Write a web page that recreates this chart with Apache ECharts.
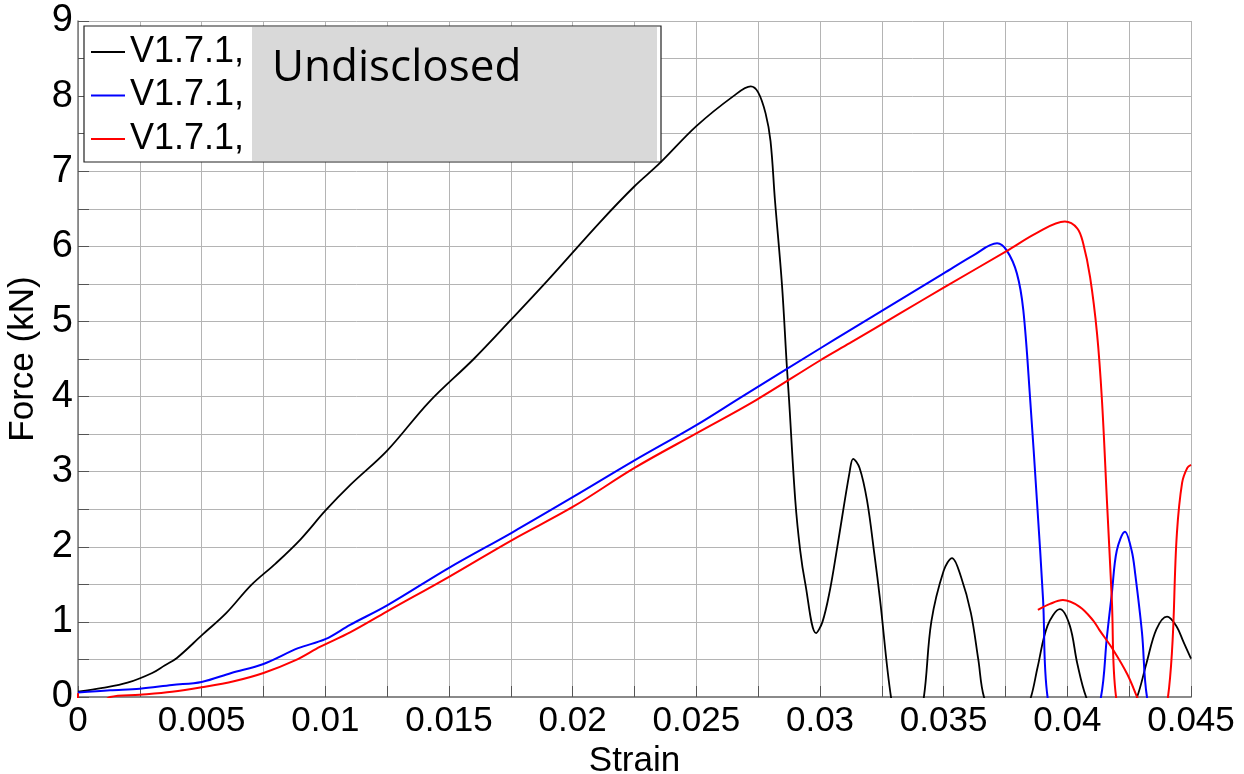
<!DOCTYPE html>
<html>
<head>
<meta charset="utf-8">
<title>Force vs Strain</title>
<script src="https://cdn.jsdelivr.net/npm/echarts@6/dist/echarts.min.js"></script>
<style>
  html, body { margin: 0; padding: 0; background: #fff; }
  #chart { width: 1244px; height: 774px; }
</style>
</head>
<body>
<div id="chart"></div>
<script>
const legendLabel = 'V1.7.1,'
const boxText = 'Undisclosed'
const xTickLabels = ['0', '0.005', '0.01', '0.015', '0.02', '0.025', '0.03', '0.035', '0.04', '0.045']
const yTickLabels = ['0', '1', '2', '3', '4', '5', '6', '7', '8', '9']

// black run
const blackStrain = [0, 0.001, 0.002, 0.003, 0.0035, 0.004, 0.005, 0.006, 0.007, 0.008, 0.009, 0.01, 0.011, 0.0125,
  0.0142, 0.016, 0.0175, 0.019, 0.0211, 0.0225, 0.0235, 0.025, 0.0265, 0.0272, 0.0275, 0.0278, 0.028, 0.02818,
  0.02846, 0.02866, 0.02875, 0.029, 0.0292, 0.0294, 0.02984, 0.0301, 0.0304, 0.0307, 0.0312, 0.03134, 0.0316,
  0.0319, 0.0322, 0.03243, 0.03287,
  0.03355, 0.0342, 0.0345, 0.035, 0.03534, 0.0357, 0.0361, 0.0364, 0.03663,
  0.0376, 0.03853, 0.0388, 0.0392, 0.0397, 0.0401, 0.0404, 0.04076,
  0.0418, 0.04282, 0.0432, 0.0436, 0.04403, 0.0444, 0.0447, 0.045]
const blackForce = [0.07, 0.12, 0.19, 0.32, 0.42, 0.52, 0.82, 1.12, 1.49, 1.78, 2.1, 2.48, 2.82, 3.28,
  3.93, 4.5, 5.02, 5.55, 6.32, 6.8, 7.1, 7.6, 8.0, 8.13, 8.05, 7.77, 7.4, 6.61,
  5.5, 4.4, 3.95, 2.62, 1.95, 1.52, 0.85, 1.0, 1.42, 2.0, 3.0, 3.17, 3.05,
  2.62, 1.9, 1.29, 0,
  -1.2, 0, 1.0, 1.68, 1.85, 1.6, 1.12, 0.5, 0,
  -0.9, 0, 0.4, 0.95, 1.17, 0.95, 0.45, 0,
  -0.8, 0, 0.45, 0.9, 1.07, 0.95, 0.73, 0.51]

// blue run
const blueStrain = [0, 0.0013, 0.0025, 0.0038, 0.005, 0.0062, 0.0075, 0.0089, 0.01, 0.011, 0.0125, 0.015, 0.01755,
  0.02, 0.0225, 0.025, 0.0268, 0.03, 0.0312, 0.0332, 0.035, 0.0362, 0.03716, 0.03756, 0.03796, 0.03822, 0.0385,
  0.03877, 0.03902, 0.0392, 0.0403, 0.04136, 0.0416, 0.0418, 0.042, 0.04233, 0.0426, 0.04274, 0.04302, 0.04322,
  0.044, 0.045]
const blueForce = [0.06, 0.09, 0.11, 0.16, 0.2, 0.32, 0.44, 0.65, 0.77, 0.96, 1.22, 1.72, 2.19,
  2.66, 3.15, 3.62, 3.99, 4.64, 4.88, 5.28, 5.64, 5.88, 6.04, 5.94, 5.64, 5.15, 3.95,
  2.62, 1.29, 0, -1.5, 0, 0.8, 1.38, 1.95, 2.2, 1.95, 1.65, 0.85, 0,
  -1.2, -2]

// red run
const redStrain = [0, 0.00002, 0.0008, 0.0013, 0.0025, 0.0038, 0.005, 0.0063, 0.0075, 0.0088, 0.0098, 0.011, 0.0125,
  0.015, 0.01755, 0.02, 0.0225, 0.025, 0.0274, 0.03, 0.0312, 0.0332, 0.035, 0.03756, 0.03877, 0.0399, 0.0404,
  0.04064, 0.04092, 0.0412, 0.0414, 0.0416, 0.0418, 0.04197, 0.043, 0.04407, 0.04443, 0.04464, 0.04485, 0.045]
const redForce = [0.05, -0.3, -0.15, 0, 0.03, 0.07, 0.13, 0.21, 0.32, 0.49, 0.67, 0.86, 1.14,
  1.6, 2.09, 2.53, 3.05, 3.51, 3.95, 4.48, 4.71, 5.1, 5.45, 5.94, 6.18, 6.33, 6.24,
  6.04, 5.59, 4.84, 3.95, 2.62, 1.29, 0, -1.5, 0, 2.18, 2.85, 3.05, 3.09]

// red trailing piece
const redTailStrain = [0.03881, 0.0393, 0.03982, 0.0405, 0.04104, 0.0413, 0.04185, 0.04243, 0.04282, 0.0432]
const redTailForce = [1.16, 1.24, 1.29, 1.2, 1.02, 0.89, 0.63, 0.3, 0, -0.3]

const zip = (xs, ys) => xs.map((x, i) => [x, ys[i]])

const font = 'Arial, "Liberation Sans", sans-serif'

function lineSeries(id, color, width, strain, force) {
  return {
    id: id,
    name: id,
    type: 'line',
    data: zip(strain, force),
    showSymbol: false,
    symbol: 'none',
    smooth: 0.35,
    clip: true,
    lineStyle: { color: color, width: width },
    itemStyle: { color: color },
    emphasis: { disabled: true },
  }
}

const chart = echarts.init(document.getElementById('chart'))

chart.setOption({
  backgroundColor: '#ffffff',
  animation: false,
  textStyle: { fontFamily: font, color: '#000' },
  grid: { left: 78, right: 53, top: 21, bottom: 77, containLabel: false, outerBoundsMode: 'none' },
  legend: {
    data: ['black', 'blue', 'red'],
    orient: 'vertical',
    left: 91,
    top: 32,
    padding: 0,
    z: 5,
    icon: 'rect',
    itemWidth: 34,
    itemHeight: 2,
    itemGap: 3.5,
    selectedMode: false,
    formatter: () => legendLabel,
    textStyle: { fontFamily: font, fontSize: 36, lineHeight: 40, color: '#000' },
  },
  graphic: [
    {
      type: 'rect',
      z: 3,
      z2: 0,
      shape: { x: 84, y: 26, width: 577, height: 136 },
      style: { fill: '#ffffff', stroke: '#222', lineWidth: 1.2 },
    },
    {
      type: 'rect',
      z: 3,
      z2: 1,
      shape: { x: 252, y: 27, width: 405, height: 134 },
      style: { fill: '#d9d9d9' },
    },
    {
      type: 'text',
      z: 3,
      z2: 2,
      x: 272,
      y: 68,
      style: {
        text: boxText,
        fill: '#000',
        font: '44px "Open Sans", sans-serif',
        verticalAlign: 'middle',
      },
    },
  ],
  xAxis: {
    type: 'value',
    min: 0,
    max: 0.045,
    interval: 0.0025,
    name: 'Strain',
    nameLocation: 'middle',
    nameGap: 38,
    nameTextStyle: { fontFamily: font, fontSize: 35, color: '#000' },
    axisLine: { show: true, lineStyle: { color: '#8a8a8a', width: 2 } },
    axisTick: { show: true, inside: true, length: 11, lineStyle: { color: '#555' } },
    axisLabel: {
      margin: 7,
      fontFamily: font,
      fontSize: 35,
      color: '#000',
      formatter: (v) => {
        const k = Math.round(v / 0.0025)
        return k % 2 === 0 ? xTickLabels[k / 2] : ''
      },
    },
    splitLine: { show: true, lineStyle: { color: '#b4b4b4', width: 1 } },
  },
  yAxis: {
    type: 'value',
    min: 0,
    max: 9,
    interval: 0.5,
    name: 'Force (kN)',
    nameLocation: 'middle',
    nameGap: 32,
    nameTextStyle: { fontFamily: font, fontSize: 35, color: '#000' },
    axisLine: { show: true, lineStyle: { color: '#777', width: 1.5 } },
    axisTick: { show: true, inside: true, length: 11, lineStyle: { color: '#555' } },
    axisLabel: {
      margin: 5,
      fontFamily: font,
      fontSize: 38,
      color: '#000',
      formatter: (v) => {
        const k = Math.round(v / 0.5)
        return k % 2 === 0 ? yTickLabels[k / 2] : ''
      },
    },
    splitLine: { show: true, lineStyle: { color: '#b4b4b4', width: 1 } },
  },
  series: [
    lineSeries('black', '#000000', 1.8, blackStrain, blackForce),
    lineSeries('blue', '#0000ff', 2, blueStrain, blueForce),
    lineSeries('red', '#ff0000', 2, redStrain, redForce),
    lineSeries('redTail', '#ff0000', 2, redTailStrain, redTailForce),
  ],
})
</script>
</body>
</html>
